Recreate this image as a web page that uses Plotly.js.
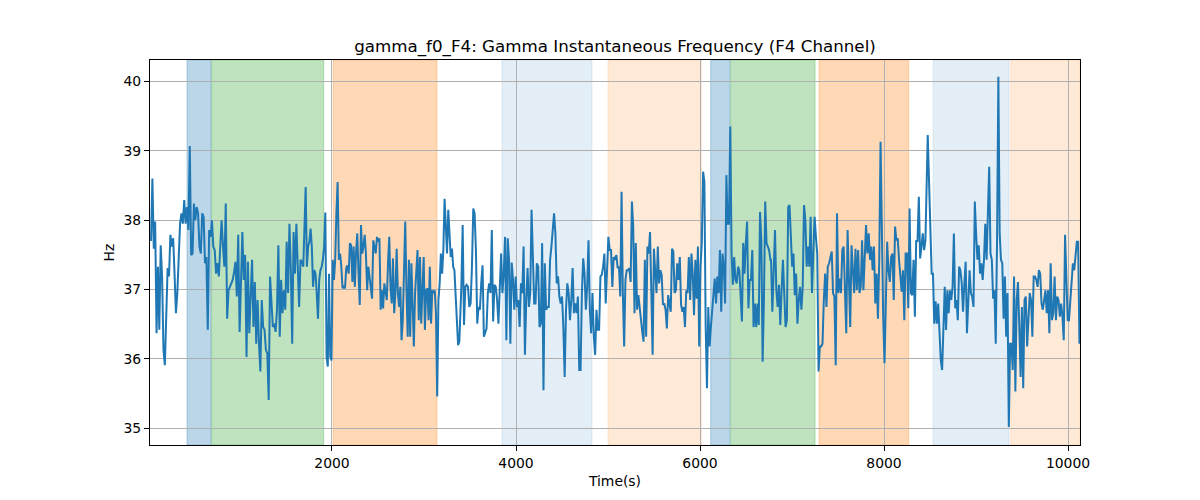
<!DOCTYPE html>
<html>
<head>
<meta charset="utf-8">
<script src="https://cdn.plot.ly/plotly-3.0.1.min.js"></script>
<style>
  body { margin: 0; background: white; }
  #chart { width: 1200px; height: 500px; }
</style>
</head>
<body>
<div id="chart"></div>
<script>
// GAMMA F0 (F4), grouped in six stretches of time

var seg1 = [37.7,38.60,37.59,37.98,36.37,37.33,36.42,37.64,37.19,36.13,35.91,36.56,37.31,37.19,37.79,37.62,37.74,37.23,36.66,36.95,
  37.43,37.95,38.10,37.95,38.29,37.95,38.19,37.86,39.07,37.50,37.52,38.24,38.00,38.19,38.10,37.62,37.52,38.10,38.05,37.38,
  37.47,36.42,37.86,37.76,38.00,37.62,37.57,37.23,37.38,37.19,37.62,38.00,37.62,37.33,38.24,36.58,36.99,37.04,37.11,37.14,
  37.25,37.40,36.90,37.79,36.39,37.2,37.83,37.14,37.50,36.03,37.40,36.37,36.9,37.43,36.46,37.11,36.22,36.85,36.22,35.82,
  36.85,36.46,36.42,36.13,36.08,35.41,37.19,36.85,36.46,36.51,36.39,36.71,37.64,36.32,37.14,36.66,36.99,36.71,37.69,36.95,
  37.95,37.28,36.22,37.83,37.23,37.95,37.23,36.75,37.43,37.4,37.33];

var seg2 = [38.48,37.33,37.62,37.69,37.88,37.62,37.04,37.28,37.23,36.95,36.58,37.14,37.28,37.33,37.43,37.62,38.11,36.03,35.89,37.23,
  36.03,35.98,37.43,37.14,37.43,38.10,38.55,37.43,37.52,37.33,37.02,37.04,37.02,37.31,37.35,37.23,37.67,37.64,37.11,37.62,
  37.04,37.55,37.81,37.23,36.78,37.93,37.52,37.62,37.79,37.52,36.99,37.33,37.14,36.99,36.87,37.71,37.62,37.52,37.76,37.69,
  37.74,36.71,36.99,36.73,37.09,36.99,36.85,37.38,37.76,37.04,36.80,37.45,36.66,36.95,37.59,36.95,36.75,37.04,36.27,36.56,
  37.43,37.98,36.99,36.32,37.43,36.32,37.38,36.75,36.18,36.95,37.33,37.57,36.56,37.47,36.51,36.99,37.47,36.42,36.99,37.02,
  36.56,37.33,36.51,36.99,36.95,36.99,36.66,35.46,36.85,37.09,37.52,37.23,37.57,38.31,38.00,37.52,38.15,37.81,37.47,37.59,
  37.33,37.28,36.85,36.56,36.20,36.25];

var seg3 = [37.04,37.93,36.49,37.04,37.07,37.04,36.75,36.80,37.33,38.17,38.10,37.57,36.51,36.75,36.71,37.09,37.35,36.32,36.39,36.44,
  36.95,37.09,36.95,37.86,36.54,37.07,37.04,36.85,36.51,37.04,37.52,36.95,37.23,37.76,36.27,37.74,37.43,36.22,37.39,37.14,
  36.71,37.19,36.75,36.85,36.46,37.09,36.95,37.62,36.06,36.85,37.31,36.75,36.95,38.15,37.33,36.80,36.80,37.38,37.33,36.46,
  36.51,37.67,35.55,37.38,36.71,36.75,36.75,37.43,37.62,37.86,38.10,37.81,37.09,37.19,36.90,36.80,36.90,36.46,35.74,36.71,
  37.09,36.95,36.56,36.85,37.31,36.66,36.80,36.66,36.90,35.84,35.84,36.95,37.45,37.23,36.71,37.04,37.71,36.71,36.37,36.95,
  36.32,36.06,36.71,36.42,36.42,37.19,37.21,37.33,37.52,36.80,37.33,37.76,37.57,37.57,37.04,37.47,37.43];

var seg4 = [37.50,37.31,37.33,36.90,38.41,36.95,36.18,37.14,37.28,37.28,37.31,37.11,38.27,37.91,36.66,37.67,36.71,36.92,36.71,36.51,
  36.39,36.25,37.43,36.32,37.62,37.52,37.83,36.95,36.06,37.59,37.33,36.95,37.62,37.09,37.28,37.21,36.78,36.80,36.71,36.44,
  36.92,36.80,36.68,37.59,37.55,36.95,36.99,37.38,37.14,37.47,36.78,36.68,36.75,36.46,36.99,36.95,37.47,36.85,37.52,37.23,
  36.63,37.43,36.87,37.62,36.18,37.33,37.67,38.70,38.55,36.46,35.58,36.75,36.18,36.46,36.66,36.95,37.16,36.80,37.19,36.95,
  37.57,36.68,37.52,37.33,36.80,38.65,37.95,37.95,39.35,37.52,37.07,37.47,37.14,37.09,37.33,37.28,36.85,36.54,37.67,37.23,
  37.67,37.98,36.73,37.14,37.14,37.57,36.46,36.80,36.46,36.80,36.49,38.12,37.71,35.96,36.85,38.27,37.67,37.62,37.57,37.43];

var seg5 = [37.43,36.68,37.33,37.86,36.99,36.75,37.07,36.49,36.99,37.43,36.95,36.46,36.56,38.19,38.22,37.62,37.33,37.52,36.92,37.23,
  36.51,36.85,37.04,36.71,37.04,38.22,38.00,37.33,37.62,37.33,38.05,36.95,37.71,38.05,37.76,37.52,35.82,36.18,36.18,36.22,
  36.85,37.23,36.75,37.33,37.38,37.47,37.55,36.95,36.90,35.91,38.10,36.95,37.16,36.95,37.57,37.62,36.99,36.37,37.86,37.28,
  36.46,37.64,37.19,36.95,37.59,36.99,37.57,36.95,37.04,37.71,36.99,37.50,37.93,37.52,37.81,37.43,37.62,37.28,37.62,36.80,
  37.23,36.58,37.43,39.13,37.43,36.61,35.94,37.14,37.69,37.28,37.11,37.47,37.52,36.85,37.91,37.71,37.74,37.43,37.23,36.97,
  37.28,36.56,37.52,37.52,36.73,38.17,36.95,36.92,37.43,36.61,37.71,37.69,38.34,37.45,37.62,37.81,37.57,37.71];

var seg6 = [39.23,38.48,37.62,37.23,37.23,36.51,36.83,36.51,36.80,36.32,35.98,35.84,36.66,37.04,36.42,36.99,36.66,36.99,36.85,37.04,
  37.81,36.73,36.85,36.56,37.33,37.28,37.09,36.68,37.09,37.40,36.37,36.95,37.28,36.95,36.90,36.75,38.27,37.81,37.43,37.64,
  37.23,37.38,37.14,37.43,37.95,37.43,37.98,38.77,37.52,37.43,36.87,36.99,36.22,37.71,40.07,37.81,37.43,37.38,36.58,37.19,
  36.32,36.95,35.02,36.22,36.22,35.84,37.19,35.53,36.85,37.11,36.46,35.74,36.75,35.58,36.85,36.90,36.18,36.66,36.95,36.85,
  36.32,37.19,37.19,37.14,37.04,37.28,37.23,36.80,36.71,36.85,36.99,36.66,36.99,36.37,37.38,36.56,36.66,37.19,36.56,36.90,
  36.85,36.61,36.80,36.61,36.27,37.79,37.28,36.56,36.56,36.85,37.23,37.38,37.28,37.47,37.69,37.69,36.22];

// first and last time (s) of each stretch above
var segStart = [33, 1714, 3406, 5091, 6772, 8475];
var segEnd   = [1688, 3384, 5076, 6765, 8450, 10124];

// labelled periods (s)
var bandStart = [424, 692, 2014, 3848, 5000, 6116, 6334, 7294, 8533, 9377];
var bandEnd   = [685, 1910, 3141, 4826, 6014, 6326, 7250, 8269, 9359, 10130];
var bandKind  = ['A', 'B', 'C', 'D', 'E', 'A', 'B', 'C', 'D', 'E'];

var xTicks = [2000, 4000, 6000, 8000, 10000];
var xTickLabels = ['2000', '4000', '6000', '8000', '10000'];
var yTicks = [35, 36, 37, 38, 39, 40];

var bandColor = {
  A: 'rgba(31,119,180,0.3)',
  B: 'rgba(44,160,44,0.3)',
  C: 'rgba(255,127,14,0.3)',
  D: 'rgba(31,119,180,0.12)',
  E: 'rgba(255,127,14,0.16)'
};

var segs = [seg1, seg2, seg3, seg4, seg5, seg6];
var t = [], hz = [];
for (var s = 0; s < segs.length; s++) {
  var vals = segs[s];
  var step = (segEnd[s] - segStart[s]) / (vals.length - 1);
  for (var i = 0; i < vals.length; i++) {
    t.push(segStart[s] + i * step);
    hz.push(vals[i]);
  }
}

var shapes = [];
for (var b = 0; b < bandStart.length; b++) {
  shapes.push({
    type: 'rect', xref: 'x', yref: 'paper', layer: 'below',
    x0: bandStart[b], x1: bandEnd[b], y0: 0, y1: 1,
    fillcolor: bandColor[bandKind[b]],
    line: {color: bandColor[bandKind[b]], width: 1}
  });
}

var trace = {
  x: t,
  y: hz,
  mode: 'lines',
  type: 'scatter',
  line: {color: '#1f77b4', width: 2},
  hoverinfo: 'skip'
};

var font = {family: 'DejaVu Sans, sans-serif', size: 13.9, color: 'black'};

var layout = {
  width: 1200,
  height: 500,
  margin: {l: 150, r: 120, t: 60, b: 55},
  paper_bgcolor: 'white',
  plot_bgcolor: 'white',
  showlegend: false,
  font: font,
  title: {
    text: 'gamma_f0_F4: Gamma Instantaneous Frequency (F4 Channel)',
    font: {family: 'DejaVu Sans, sans-serif', size: 16.7, color: 'black'},
    x: 0.5, xref: 'paper', xanchor: 'center',
    y: 0.908, yref: 'container', yanchor: 'middle'
  },
  xaxis: {
    range: [22, 10130],
    tickvals: xTicks,
    ticktext: xTickLabels,
    ticks: 'outside', ticklen: 5, tickcolor: 'black', tickwidth: 1,
    showgrid: true, gridcolor: '#b0b0b0', gridwidth: 1,
    zeroline: false,
    showline: true, linecolor: 'black', linewidth: 1, mirror: true,
    tickfont: font,
    title: {text: 'Time(s)', font: font, standoff: 6}
  },
  yaxis: {
    range: [34.76, 40.31],
    tickvals: yTicks,
    ticks: 'outside', ticklen: 5, tickcolor: 'black', tickwidth: 1,
    showgrid: true, gridcolor: '#b0b0b0', gridwidth: 1,
    zeroline: false,
    showline: true, linecolor: 'black', linewidth: 1, mirror: true,
    tickfont: font,
    title: {text: 'Hz', font: font, standoff: 5}
  },
  shapes: shapes
};

Plotly.newPlot('chart', [trace], layout, {staticPlot: true});
</script>
</body>
</html>
